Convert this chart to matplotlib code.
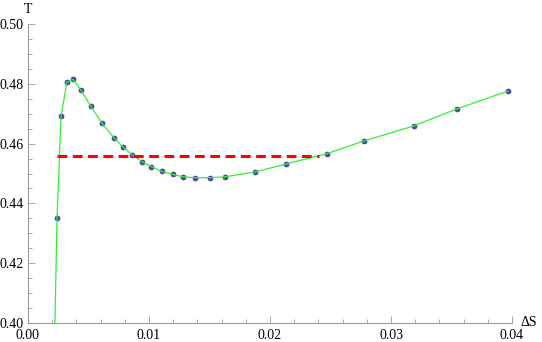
import numpy as np
import matplotlib
matplotlib.use("Agg")
import matplotlib.pyplot as plt
from matplotlib.ticker import MultipleLocator, FormatStrFormatter

# data
ds = [0.00240, 0.00273, 0.00322, 0.00374, 0.00438, 0.00518, 0.00609,
      0.00711, 0.00785, 0.00862, 0.00940, 0.01020, 0.01105, 0.01196,
      0.01284, 0.01378, 0.01504, 0.01628, 0.01876, 0.02135, 0.02468,
      0.02777, 0.03187, 0.03545, 0.03967]
temp = [0.4351, 0.4692, 0.4806, 0.4815, 0.4778, 0.4726, 0.4669,
        0.4619, 0.4589, 0.4562, 0.4540, 0.4523, 0.4507, 0.4497,
        0.4489, 0.4486, 0.4486, 0.4489, 0.4505, 0.4532, 0.4566,
        0.4609, 0.4659, 0.4716, 0.4776]
# where the curve leaves the bottom of the frame
tail_ds = [0.00222]
tail_t = [0.3990]

maxwell_t = 0.4559
maxwell_ds = [0.00240, 0.02405]

plt.rcParams['font.family'] = ['Liberation Serif', 'DejaVu Serif']

fig = plt.figure(figsize=(5.42, 3.42), dpi=100)
ax = fig.add_axes([28 / 542, 1 - 323 / 342, 484 / 542, 299 / 342])

ax.plot(tail_ds + ds, tail_t + temp, color='#33ee33', lw=0.9, zorder=3,
        clip_on=True)
ax.plot(ds, temp, 'o', ms=3.6, mfc='#4a4ab0', mec='#3a3a90', mew=0.5,
        zorder=2)
ax.plot(maxwell_ds, [maxwell_t, maxwell_t], color='red', lw=2.2,
        dashes=(3.2, 1.8), zorder=4)

ax.set_xlim(0, 0.04)
ax.set_ylim(0.40, 0.50)

for s in ['top', 'right']:
    ax.spines[s].set_visible(False)
for s in ['left', 'bottom']:
    ax.spines[s].set_color('#999999')
    ax.spines[s].set_linewidth(0.8)

ax.xaxis.set_major_locator(MultipleLocator(0.01))
ax.xaxis.set_minor_locator(MultipleLocator(0.002))
ax.yaxis.set_major_locator(MultipleLocator(0.02))
ax.yaxis.set_minor_locator(MultipleLocator(0.005))
ax.xaxis.set_major_formatter(FormatStrFormatter('%.2f'))
ax.yaxis.set_major_formatter(FormatStrFormatter('%.2f'))
ax.tick_params(which='both', direction='in', color='#999999', width=0.6,
               labelsize=10, labelcolor='black')
ax.tick_params(which='major', length=5)
ax.tick_params(which='minor', length=3)
ax.tick_params(axis='x', pad=4)
ax.tick_params(axis='y', pad=3)

ax.text(0, 1.05, 'T', transform=ax.transAxes, ha='center', va='center',
        fontsize=10)
ax.text(1.035, 0.0, '\u0394S', transform=ax.transAxes, ha='center',
        va='center', fontsize=10)

fig.savefig('out.png', dpi=100)
